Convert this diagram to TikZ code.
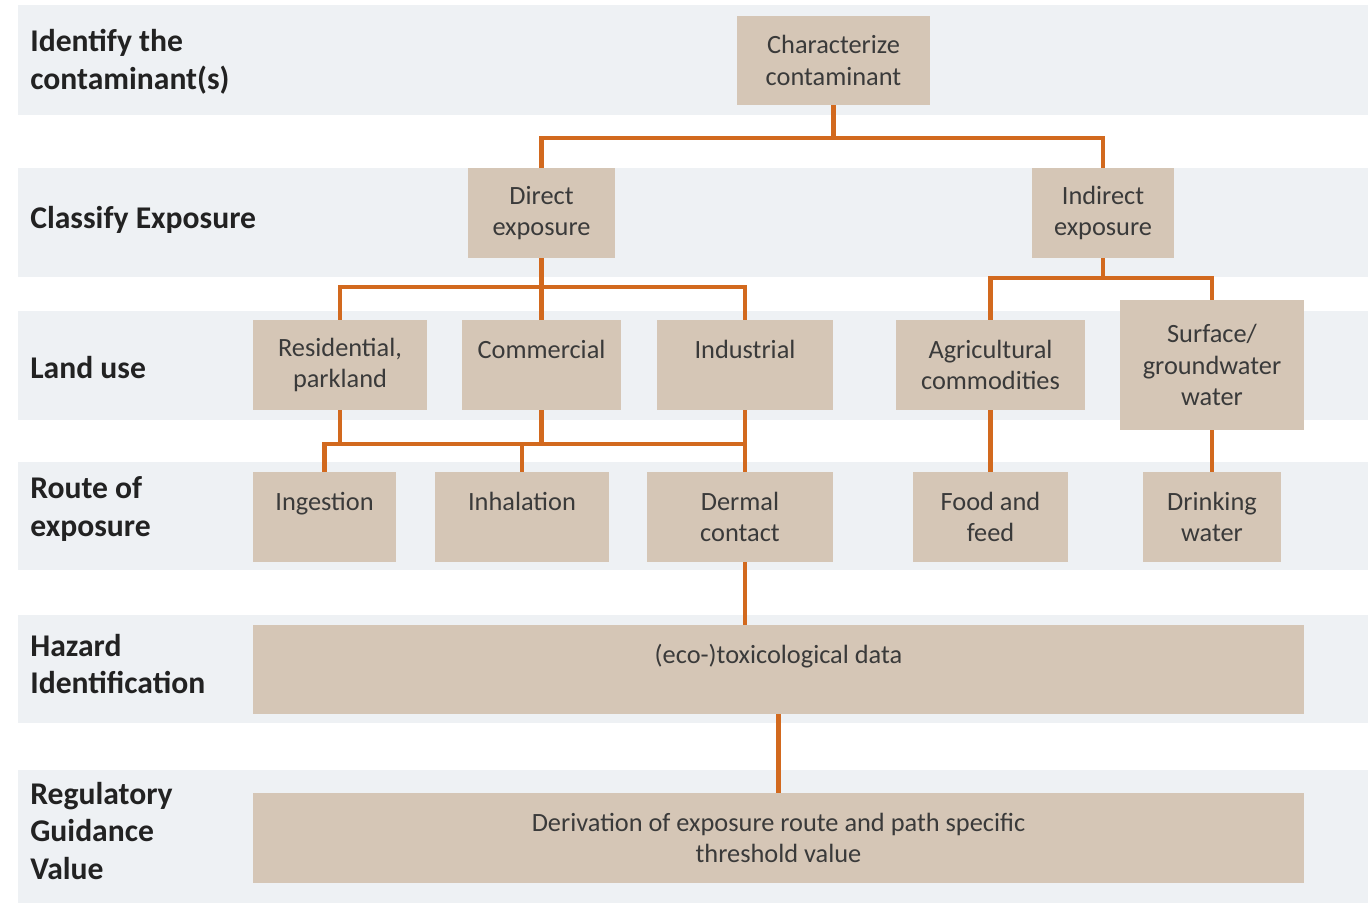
\documentclass[tikz,border=0pt]{standalone}
\usepackage{fontspec}
\setmainfont{Carlito}
\definecolor{bandc}{HTML}{EEF1F4}
\definecolor{boxc}{HTML}{D5C6B6}
\definecolor{orng}{HTML}{D2691E}
\definecolor{txtc}{HTML}{3A3A3A}
\definecolor{lblc}{HTML}{222222}
\begin{document}
\begin{tikzpicture}[x=0.02cm,y=-0.02cm,
  bx/.style={fill=boxc, inner sep=0pt, align=center, text=txtc, font=\fontsize{15}{18}\selectfont},
  sz/.style 2 args={minimum width=#1*0.02cm, minimum height=#2*0.02cm},
  lbl/.style={anchor=west, align=left, inner sep=0pt, text=lblc, font=\fontsize{18}{21.5}\selectfont\bfseries},
  link/.style={draw=orng, line width=2.7pt}]
\useasboundingbox (0,0) rectangle (1368,903);
% bands
\fill[bandc] (18,5) rectangle (1368,115);
\fill[bandc] (18,168) rectangle (1368,277);
\fill[bandc] (18,311) rectangle (1368,420);
\fill[bandc] (18,462) rectangle (1368,570);
\fill[bandc] (18,615) rectangle (1368,723);
\fill[bandc] (18,770) rectangle (1368,903);
% row labels
\node[lbl] (l1) at (30,62) {Identify the\\contaminant(s)};
\node[lbl] (l2) at (30,220) {Classify Exposure};
\node[lbl] (l3) at (30,368) {Land use};
\node[lbl] (l4) at (30,509) {Route of\\exposure};
\node[lbl] (l5) at (30,664) {Hazard\\Identification};
\node[lbl] (l6) at (30,831) {Regulatory\\Guidance\\Value};
% boxes
\node[bx, sz={193}{89}] (char) at (833.5,60.5) {Characterize\\contaminant};
\node[bx, sz={147}{90}] (direct) at (541.5,213) {Direct\\exposure};
\node[bx, sz={142}{90}] (indir) at (1103,213) {Indirect\\exposure};
\node[bx, sz={174}{90}] (res) at (340,365) {Residential,\\parkland};
\node[bx, sz={159}{90}] (com) at (541.5,365) {Commercial\\\mbox{}};
\node[bx, sz={176}{90}] (ind) at (745,365) {Industrial\\\mbox{}};
\node[bx, sz={189}{90}] (agri) at (990.5,365) {Agricultural\\commodities};
\node[bx, sz={184}{130}] (surf) at (1212,365) {Surface/\\groundwater\\water};
\node[bx, sz={143}{90}] (ing) at (324.5,517) {Ingestion\\\mbox{}};
\node[bx, sz={174}{90}] (inh) at (522,517) {Inhalation\\\mbox{}};
\node[bx, sz={186}{90}] (derm) at (740,517) {Dermal\\contact};
\node[bx, sz={155}{90}] (food) at (990.5,517) {Food and\\feed};
\node[bx, sz={138}{90}] (drink) at (1212,517) {Drinking\\water};
\node[bx, sz={1051}{89}] (tox) at (778.5,669.5) {(eco-)toxicological data\\\mbox{}};
\node[bx, sz={1051}{90}] (deriv) at (778.5,838) {Derivation of exposure route and path specific\\threshold value};
% junctions
\coordinate (j1) at (833.5,138);
\coordinate (j2) at (541.5,287);
\coordinate (j3) at (1103,278);
\coordinate (j4) at (745,444);
% connectors
\draw[link] (char.south) -- (j1);
\draw[link] (direct.north) |- (j1) -| (indir.north);
\draw[link] (direct.south) -- (j2);
\draw[link] (res.north) |- (j2) -| (ind.north);
\draw[link] (com.north) -- (j2);
\draw[link] (indir.south) -- (j3);
\draw[link] (agri.north) |- (j3) -| (surf.north);
\draw[link] (res.south) -- (res.south |- j4);
\draw[link] (com.south) -- (com.south |- j4);
\draw[link] (ing.north) |- (j4);
\draw[link] (inh.north) -- (inh.north |- j4);
\draw[link] (ind.south) -- (ind.south |- derm.north);
\draw[link] (agri.south) -- (food.north);
\draw[link] (surf.south) -- (drink.north);
\draw[link] (ind.south |- derm.south) -- (ind.south |- tox.north);
\draw[link] (tox.south) -- (deriv.north);
\end{tikzpicture}
\end{document}
